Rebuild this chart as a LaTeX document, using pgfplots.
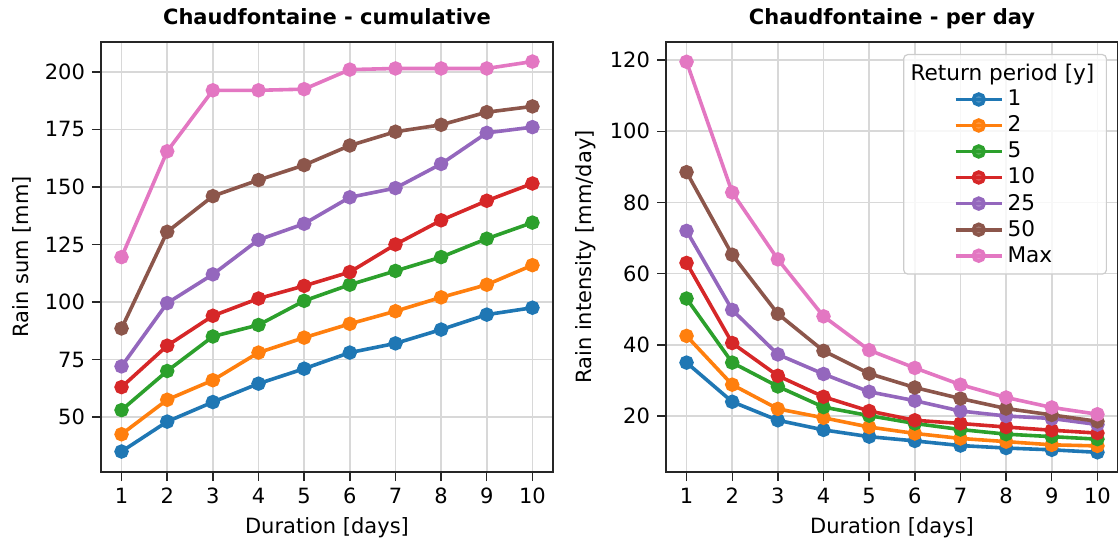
\documentclass[border=0pt]{standalone}
\usepackage{pgfplots}
\pgfplotsset{compat=1.18}
\usepackage{pgfplotstable}
\usepackage{fontspec}
\setmainfont{DejaVu Sans}
\definecolor{c0}{HTML}{1F77B4}
\definecolor{c1}{HTML}{FF7F0E}
\definecolor{c2}{HTML}{2CA02C}
\definecolor{c3}{HTML}{D62728}
\definecolor{c4}{HTML}{9467BD}
\definecolor{c5}{HTML}{8C564B}
\definecolor{c6}{HTML}{E377C2}
\definecolor{gridgray}{HTML}{D8D8D8}
\definecolor{spine}{HTML}{262626}
\definecolor{leggray}{HTML}{CCCCCC}

% cumulative rain sum [mm]
\pgfplotstableread{
d  r1    r2    r5    r10   r25   r50   rmax
1  35.0  42.5  53.0  63.0  72.0  88.5  119.5
2  48.0  57.5  70.0  81.0  99.5  130.5 165.5
3  56.5  66.0  85.0  94.0  112.0 146.0 192.0
4  64.5  78.0  90.0  101.5 127.0 153.0 192.0
5  71.0  84.5  100.5 107.0 134.0 159.5 192.5
6  78.0  90.5  107.5 113.0 145.5 168.0 201.0
7  82.0  96.0  113.5 125.0 149.5 174.0 201.5
8  88.0  102.0 119.5 135.5 160.0 177.0 201.5
9  94.5  107.5 127.5 144.0 173.5 182.5 201.5
10 97.5  116.0 134.5 151.5 176.0 185.0 204.5
}\cumtable

% rain intensity [mm/day]
\pgfplotstableread{
d  r1    r2    r5    r10   r25   r50   rmax
1  35.0  42.5  53.0  63.0  72.0  88.5  119.5
2  24.0  28.8  35.0  40.5  49.8  65.3  82.8
3  18.8  22.0  28.3  31.3  37.3  48.7  64.0
4  16.1  19.5  22.5  25.4  31.8  38.3  48.0
5  14.2  16.9  20.1  21.4  26.8  31.9  38.5
6  13.0  15.1  17.9  18.8  24.3  28.0  33.5
7  11.7  13.7  16.2  17.9  21.4  24.9  28.8
8  11.0  12.8  14.9  16.9  20.0  22.1  25.2
9  10.5  11.9  14.2  16.0  19.3  20.3  22.4
10 9.8   11.6  13.5  15.2  17.6  18.5  20.5
}\daytable

\pgfplotsset{
  myaxis/.style={
    scale only axis, width=226pt, height=215pt,
    xmin=0.55, xmax=10.45, xtick={1,2,...,10},
    xtick pos=lower, ytick pos=left,
    grid=major,
    major grid style={color=gridgray, line width=0.8pt},
    axis line style={color=spine, line width=0.7pt},
    every tick/.style={color=spine, line width=0.7pt},
    tick align=outside, major tick length=4.5pt,
    /pgf/number format/assume math mode=true,
    tick label style={font=\fontsize{10.5}{12}\selectfont},
    label style={font=\fontsize{10.5}{12}\selectfont},
    title style={font=\fontsize{10.5}{12}\selectfont\bfseries, at={(0.5,1)}, anchor=base, yshift=2.5pt},
    xlabel={Duration [days]},
    every axis plot/.append style={line width=1.8pt, mark=*, mark size=2.7pt, mark options={solid}},
  }
}

\begin{document}
\begin{tikzpicture}
\begin{axis}[myaxis, name=left, at={(0,0)}, anchor=south west,
  ymin=26.1, ymax=213, ytick={50,75,100,125,150,175,200},
  title={Chaudfontaine - cumulative},
  ylabel={Rain sum [mm]}]
\addplot[c0] table[x=d, y=r1] {\cumtable};
\addplot[c1] table[x=d, y=r2] {\cumtable};
\addplot[c2] table[x=d, y=r5] {\cumtable};
\addplot[c3] table[x=d, y=r10] {\cumtable};
\addplot[c4] table[x=d, y=r25] {\cumtable};
\addplot[c5] table[x=d, y=r50] {\cumtable};
\addplot[c6] table[x=d, y=rmax] {\cumtable};
\end{axis}
\begin{axis}[myaxis, name=right, at={(282.5pt,0)}, anchor=south west,
  ymin=4.27, ymax=125.06, ytick={20,40,60,80,100,120},
  title={Chaudfontaine - per day},
  ylabel={Rain intensity [mm/day]},
  legend cell align=left,
  legend image code/.code={\draw[mark repeat=2, mark phase=2] plot coordinates {(0pt,0pt) (11.5pt,0pt) (23pt,0pt)};},
  legend style={at={(1,1)}, anchor=north east, xshift=-5.5pt, yshift=-6pt,
    draw=leggray, line width=0.6pt, fill=white, fill opacity=0.8, text opacity=1,
    rounded corners=2pt, font=\fontsize{10.8}{12}\selectfont,
    row sep=-0.45pt, inner xsep=4pt, inner ysep=2.5pt}]
\addlegendimage{legend image code/.code={\path[draw=none, fill=none] (-22pt,0pt) rectangle (0pt,0pt);}}
\addlegendentry{\hspace*{-48.5pt}Return period [y]}
\addplot[c0] table[x=d, y=r1] {\daytable};
\addlegendentry{1}
\addplot[c1] table[x=d, y=r2] {\daytable};
\addlegendentry{2}
\addplot[c2] table[x=d, y=r5] {\daytable};
\addlegendentry{5}
\addplot[c3] table[x=d, y=r10] {\daytable};
\addlegendentry{10}
\addplot[c4] table[x=d, y=r25] {\daytable};
\addlegendentry{25}
\addplot[c5] table[x=d, y=r50] {\daytable};
\addlegendentry{50}
\addplot[c6] table[x=d, y=rmax] {\daytable};
\addlegendentry{Max}
\end{axis}
\pgfresetboundingbox
\path[use as bounding box] (-50.5pt,-37pt) rectangle (508.5pt,236pt);
\end{tikzpicture}
\end{document}
